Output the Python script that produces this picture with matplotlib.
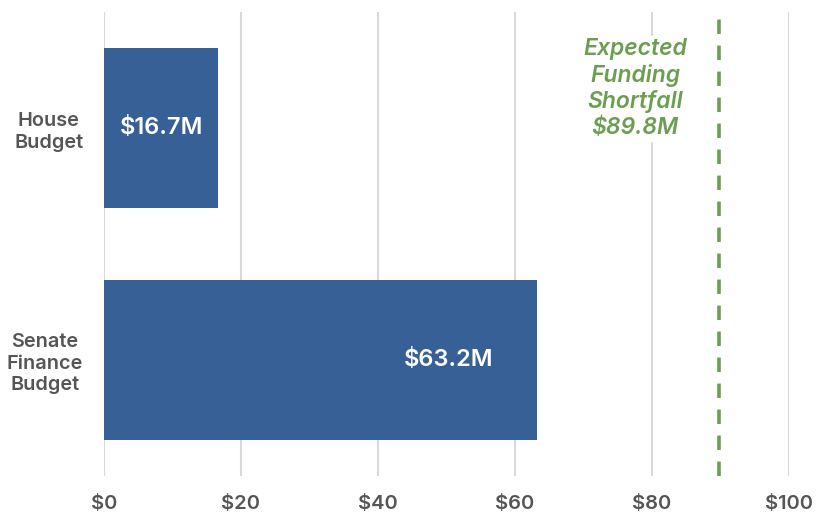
import matplotlib
matplotlib.use("Agg")
import matplotlib.pyplot as plt

categories = ["House\nBudget", "Senate\nFinance\nBudget"]
values = [16.7, 63.2]
value_labels = ["$16.7M", "$63.2M"]
shortfall = 89.8
shortfall_label = "Expected\nFunding\nShortfall\n$89.8M"
xticks = [0, 20, 40, 60, 80, 100]
xtick_labels = ["$0", "$20", "$40", "$60", "$80", "$100"]

plt.rcParams['font.family'] = ['Inter', 'DejaVu Sans']

fig = plt.figure(figsize=(8.16, 5.14), dpi=100)
ax = fig.add_axes([104/816, 38/514, 685/816, 464/514])

bar_color = "#366096"
green = "#6a9e50"

ax.barh(range(len(categories)), values, height=0.69, color=bar_color, zorder=3)
ax.set_ylim(1.5, -0.5)
ax.set_xlim(0, 100)

for sp in ax.spines.values():
    sp.set_visible(False)

ax.set_xticks(xticks)
ax.set_xticklabels(xtick_labels, fontsize=14.5, color="#555555", fontweight="semibold")
ax.tick_params(axis='x', length=0, pad=14)
ax.grid(axis='x', color="#d9d9d9", linewidth=1.5, zorder=0)

ax.set_yticks(range(len(categories)))
ax.set_yticklabels(categories, fontsize=14.3, color="#555555", fontweight="semibold",
                   multialignment="center", linespacing=1.25)
ax.tick_params(axis='y', length=0, pad=15)

# value labels
ax.text(values[0] / 2, 0, value_labels[0], color="white", fontsize=17,
        fontweight="semibold", ha="center", va="center", zorder=4)
ax.text(values[1] - 6.3, 1, value_labels[1], color="white", fontsize=17,
        fontweight="semibold", ha="right", va="center", zorder=4)

ax.axvline(shortfall, color=green, linewidth=2.6, linestyle=(0, (4, 3.2)), zorder=4)
ax.text(77.6, -0.17, shortfall_label, color=green, fontsize=16.5, fontstyle="italic",
        fontweight="semibold", ha="center", va="center", linespacing=1.2, zorder=4,
        bbox=dict(facecolor="white", edgecolor="none", pad=2))

fig.savefig("out.png", dpi=100)
